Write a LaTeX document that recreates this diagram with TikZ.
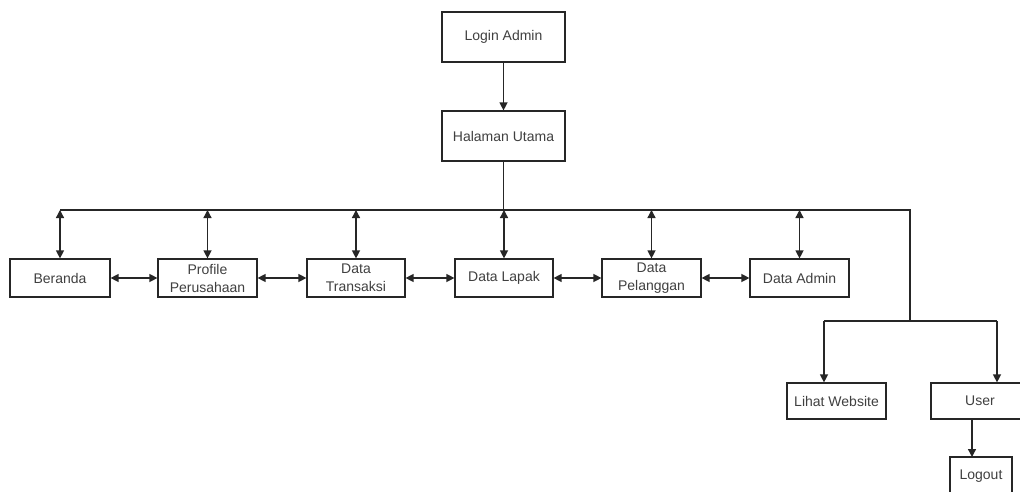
\documentclass[tikz,border=0pt]{standalone}
\usepackage{fontspec}
\setmainfont{Liberation Sans}
\usetikzlibrary{arrows.meta}
\begin{document}
\begin{tikzpicture}[x=1pt,y=-1pt,
  box/.style={draw=black!85,line width=1.2pt,fill=white,text=black!75,inner sep=0pt,
     minimum height=38pt,align=center,font=\fontsize{14}{18}\selectfont},
  conn/.style={draw=black!85,line width=1.3pt},
  ar/.style={conn,-{Triangle[width=8pt,length=8pt]}},
  dar/.style={conn,{Triangle[width=8pt,length=8pt]}-{Triangle[width=8pt,length=8pt]}}]
\useasboundingbox (0,0) rectangle (1020,492);
\clip (0,0) rectangle (1020,492);
\fill[white] (0,0) rectangle (1020,492);
% top
\node[box,minimum width=123pt,minimum height=50pt] (login) at (503.5,37) {Login Admin};
\node[box,minimum width=123pt,minimum height=50pt] (home) at (503.5,136) {Halaman Utama};
% row
\node[box,minimum width=100pt] (beranda) at (60,278) {Beranda};
\node[box,minimum width=99pt] (profile) at (207.5,278) {Profile\\Perusahaan};
\node[box,minimum width=98pt] (transaksi) at (356,278) {Data\\Transaksi};
\node[box,minimum width=98pt] (lapak) at (504,278) {Data Lapak};
\node[box,minimum width=99pt] (pelanggan) at (651.5,278) {Data\\Pelanggan};
\node[box,minimum width=99pt] (admin) at (799.5,278) {Data Admin};
% right
\node[box,minimum width=99pt,minimum height=36pt] (lihat) at (836.5,401) {Lihat Website};
\node[box,minimum width=98pt,minimum height=36pt] (user) at (980,401) {User};
\node[box,minimum width=62pt,minimum height=38pt] (logout) at (981,476) {Logout};
% coordinates
\coordinate (busL) at (60,210);
\coordinate (busR) at (910,210);
\coordinate (busD) at (910,321);
\coordinate (splitL) at (824,321);
\coordinate (splitR) at (997,321);
% connectors
\draw[ar] (login) -- (home);
\draw[conn] (home.south) -- (home.south |- busL);
\draw[conn] (busL) -- (busR) -- (busD);
\draw[conn] (splitL) -- (splitR);
\foreach \n in {beranda,profile,transaksi,lapak,pelanggan,admin}{
  \draw[dar] (\n.north |- busL) -- (\n.north);
}
\draw[dar] (beranda) -- (profile);
\draw[dar] (profile) -- (transaksi);
\draw[dar] (transaksi) -- (lapak);
\draw[dar] (lapak) -- (pelanggan);
\draw[dar] (pelanggan) -- (admin);
\draw[ar] (splitL) -- (splitL |- lihat.north);
\draw[ar] (splitR) -- (splitR |- user.north);
\draw[ar] (972,419) -- (972,457);
\end{tikzpicture}
\end{document}
